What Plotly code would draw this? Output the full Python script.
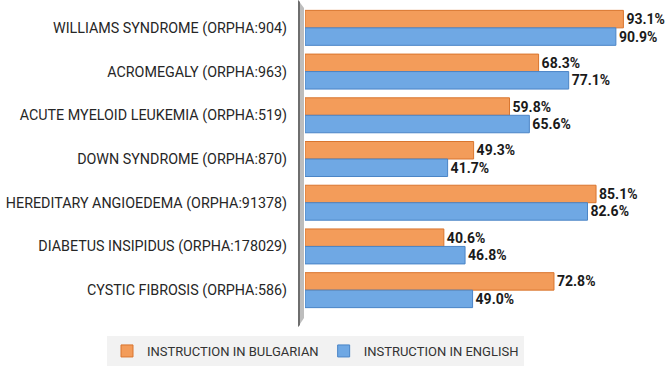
import plotly.graph_objects as go

categories = [
    "WILLIAMS SYNDROME (ORPHA:904)",
    "ACROMEGALY (ORPHA:963)",
    "ACUTE MYELOID LEUKEMIA (ORPHA:519)",
    "DOWN SYNDROME (ORPHA:870)",
    "HEREDITARY ANGIOEDEMA (ORPHA:91378)",
    "DIABETUS INSIPIDUS (ORPHA:178029)",
    "CYSTIC FIBROSIS (ORPHA:586)",
]
bulgarian = [93.1, 68.3, 59.8, 49.3, 85.1, 40.6, 72.8]
english = [90.9, 77.1, 65.6, 41.7, 82.6, 46.8, 49.0]

W, H = 669, 370
L, R, T, B = 305, 22, 6, 58
pw, ph = W - L - R, H - T - B

def px(x):
    return (x - L) / pw

def py(y):
    return (H - B - y) / ph

label_font = dict(family="Roboto", size=14, color="#1a1a1a", weight="bold")

fig = go.Figure()
fig.add_trace(go.Bar(
    y=categories, x=bulgarian, orientation="h", name="INSTRUCTION IN BULGARIAN",
    marker=dict(color="#F39C5A", line=dict(color="#D9752E", width=1)),
    texttemplate="%{x:.1f}%", textposition="outside", cliponaxis=False,
    constraintext="none", textfont=label_font,
))
fig.add_trace(go.Bar(
    y=categories, x=english, orientation="h", name="INSTRUCTION IN ENGLISH",
    marker=dict(color="#6FA8E4", line=dict(color="#4A84C6", width=1)),
    texttemplate="%{x:.1f}%", textposition="outside", cliponaxis=False,
    constraintext="none", textfont=label_font,
))

# 3D-style wall on the left of the plot
fig.add_shape(type="path", xref="paper", yref="paper", layer="below",
              path=f"M {px(298)},{py(0)} L {px(304)},{py(8)} L {px(304)},{py(318)} L {px(298)},{py(327)} Z",
              fillcolor="#BDBDBD", line=dict(width=0))
fig.add_shape(type="path", xref="paper", yref="paper", layer="below",
              path=f"M {px(298)},{py(0)} L {px(300)},{py(2)} L {px(300)},{py(325)} L {px(298)},{py(327)} Z",
              fillcolor="#6E6E6E", line=dict(width=0))

fig.update_layout(
    width=W, height=H,
    margin=dict(l=L, r=R, t=T, b=B, autoexpand=False),
    paper_bgcolor="white", plot_bgcolor="white",
    barmode="group", bargap=0.2, bargroupgap=0.0,
    font=dict(family="Roboto", size=13, color="#333333"),
    xaxis=dict(range=[0, 100], visible=False, showgrid=False, zeroline=False,
               automargin=False),
    yaxis=dict(autorange="reversed", showgrid=False, zeroline=False,
               showline=False, ticks="", ticklabelstandoff=17, automargin=False,
               tickfont=dict(family="Roboto", size=14.3, color="#262626")),
    legend=dict(orientation="h", xref="paper", yref="paper",
                x=px(107), xanchor="left", y=py(336), yanchor="top",
                bgcolor="#F2F2F2", font=dict(family="Roboto", size=13, color="#333333"),
                itemwidth=30, traceorder="normal"),
    showlegend=True,
)

fig.write_html("out.html", config={"displayModeBar": False},
               post_script="document.body.style.margin='0';document.body.style.overflow='hidden';")
